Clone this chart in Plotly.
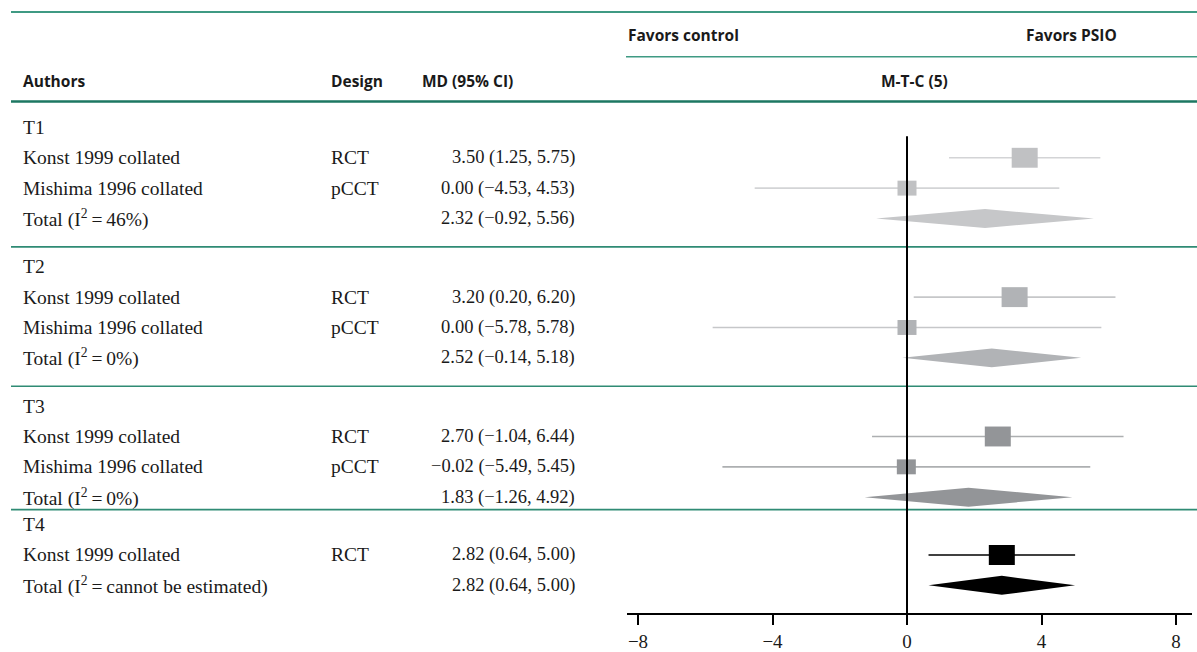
import plotly.graph_objects as go

# ---------------- data ----------------
groups = ["T1", "T2", "T3", "T4"]
study_group = [0, 0, 1, 1, 2, 2, 3]
authors = ["Konst 1999 collated", "Mishima 1996 collated",
           "Konst 1999 collated", "Mishima 1996 collated",
           "Konst 1999 collated", "Mishima 1996 collated",
           "Konst 1999 collated"]
design = ["RCT", "pCCT", "RCT", "pCCT", "RCT", "pCCT", "RCT"]
md = [3.50, 0.00, 3.20, 0.00, 2.70, -0.02, 2.82]
ci_lo = [1.25, -4.53, 0.20, -5.78, -1.04, -5.49, 0.64]
ci_hi = [5.75, 4.53, 6.20, 5.78, 6.44, 5.45, 5.00]
total_md = [2.32, 2.52, 1.83, 2.82]
total_lo = [-0.92, -0.14, -1.26, 0.64]
total_hi = [5.56, 5.18, 4.92, 5.00]
total_i2 = ["46%", "0%", "0%", "cannot be estimated"]
tick_vals = [-8, -4, 0, 4, 8]
tick_text = ["\u22128", "\u22124", "0", "4", "8"]

# ---------------- style / layout ----------------
W, H = 1197, 652
AXIS_Y = 616
X0_PX, PX_PER_UNIT = 907, 33.625
X_LEFT_PX, X_RIGHT_PX = 627, 1192
group_top = [128, 268, 408, 527]
pitch = 30.5
sep_y = [248, 388, 512]
sq_w = [26, 19, 26, 19, 26, 19, 26]
sq_h = [20, 15, 20, 15, 20, 15, 20]
diam_h = 19
sq_col = ["#c0c1c3", "#b1b3b6", "#939598", "#000000"]
dia_col = ["#c6c7c9", "#b1b3b6", "#939598", "#000000"]
line_col = ["#d3d4d6", "#c6c7c9", "#adafb1", "#000000"]
GREEN = "#3f9a83"
DGREEN = "#1d7762"
SERIF = "Liberation Serif"
SANS = "Open Sans"
TXT_SIZE = 19.5
NUM_SIZE = 18.5
HDR_SIZE = 15.5

def fmt(v):
    return f"{v:.2f}".replace("-", "\u2212")

def ci_text(m, l, h):
    return f"{fmt(m)} ({fmt(l)}, {fmt(h)})"

xr = [(X_LEFT_PX - X0_PX) / PX_PER_UNIT, (X_RIGHT_PX - X0_PX) / PX_PER_UNIT]

fig = go.Figure()
ann = []

def add_text(xpx, y, text, anchor="left", font=SERIF, size=TXT_SIZE, bold=False):
    ann.append(dict(x=xpx / W, y=y, xref="paper", yref="y", text=("<b>%s</b>" % text) if bold else text,
                    showarrow=False, xanchor=anchor, yanchor="middle",
                    font=dict(family=font, size=size, color="#1a1a1a"), borderpad=0))

# compute row positions
counts = [study_group.count(g) for g in range(len(groups))]
row_y = []
seen = [0] * len(groups)
for g in study_group:
    seen[g] += 1
    row_y.append(group_top[g] + pitch * seen[g])
total_y = [group_top[g] + pitch * (counts[g] + 1) for g in range(len(groups))]

# study rows
for i, g in enumerate(study_group):
    y = row_y[i]
    fig.add_trace(go.Scatter(x=[ci_lo[i], ci_hi[i]], y=[y, y], mode="lines",
                             line=dict(color=line_col[g], width=1.6), hoverinfo="skip"))
    hw = sq_w[i] / 2 / PX_PER_UNIT
    hh = sq_h[i] / 2
    fig.add_trace(go.Scatter(x=[md[i] - hw, md[i] + hw, md[i] + hw, md[i] - hw, md[i] - hw],
                             y=[y - hh, y - hh, y + hh, y + hh, y - hh], mode="lines",
                             fill="toself", fillcolor=sq_col[g], line=dict(width=0, color=sq_col[g]),
                             hoverinfo="skip"))
    add_text(22, y, authors[i])
    add_text(330, y, design[i])
    add_text(576, y, ci_text(md[i], ci_lo[i], ci_hi[i]), anchor="right", size=NUM_SIZE)

# totals
for g in range(len(groups)):
    y = total_y[g]
    fig.add_trace(go.Scatter(x=[total_lo[g], total_md[g], total_hi[g], total_md[g], total_lo[g]],
                             y=[y, y - diam_h / 2, y, y + diam_h / 2, y], mode="lines",
                             fill="toself", fillcolor=dia_col[g], line=dict(width=0, color=dia_col[g]),
                             hoverinfo="skip"))
    add_text(22, group_top[g], groups[g])
    add_text(22, y, "Total (I<sup>2</sup>\u2009=\u2009%s)" % total_i2[g])
    add_text(576, y, ci_text(total_md[g], total_lo[g], total_hi[g]), anchor="right", size=NUM_SIZE)

# header texts
add_text(627, 35, "Favors control", font=SANS, size=HDR_SIZE, bold=True)
add_text(1118, 35, "Favors PSIO", anchor="right", font=SANS, size=HDR_SIZE, bold=True)
add_text(22, 81, "Authors", font=SANS, size=HDR_SIZE, bold=True)
add_text(330, 81, "Design", font=SANS, size=HDR_SIZE, bold=True)
add_text(421, 81, "MD (95% CI)", font=SANS, size=HDR_SIZE, bold=True)
add_text(914, 81, "M-T-C (5)", anchor="center", font=SANS, size=HDR_SIZE, bold=True)

shapes = []
def hline(y, x0px, color, width):
    shapes.append(dict(type="line", xref="paper", yref="y", x0=x0px / W, x1=1, y0=y, y1=y,
                       line=dict(color=color, width=width), layer="above"))

hline(12, 11, GREEN, 2)
hline(57, 626, GREEN, 1.6)
hline(102, 11, DGREEN, 2.6)
for y in sep_y:
    hline(y, 11, "#2f8b74", 1.6)

# zero line
shapes.append(dict(type="line", xref="x", yref="y", x0=0, x1=0, y0=137, y1=AXIS_Y,
                   line=dict(color="black", width=2), layer="above"))

fig.update_layout(
    width=W, height=H, margin=dict(l=0, r=0, t=0, b=0),
    paper_bgcolor="white", plot_bgcolor="white", showlegend=False,
    annotations=ann, shapes=shapes,
    xaxis=dict(domain=[X_LEFT_PX / W, X_RIGHT_PX / W], range=xr, showgrid=False, zeroline=False,
               showline=True, linecolor="black", linewidth=1.6, ticks="outside", ticklen=10,
               tickwidth=1.6, tickcolor="black", tickvals=tick_vals, ticktext=tick_text,
               tickfont=dict(family=SERIF, size=19, color="#1a1a1a"), fixedrange=True),
    yaxis=dict(domain=[(H - AXIS_Y) / H, 1], range=[AXIS_Y, 0], visible=False, fixedrange=True),
)

fig.write_html("out.html", config={"displayModeBar": False},
               post_script="document.body.style.margin='0px';document.body.style.overflow='hidden';")
